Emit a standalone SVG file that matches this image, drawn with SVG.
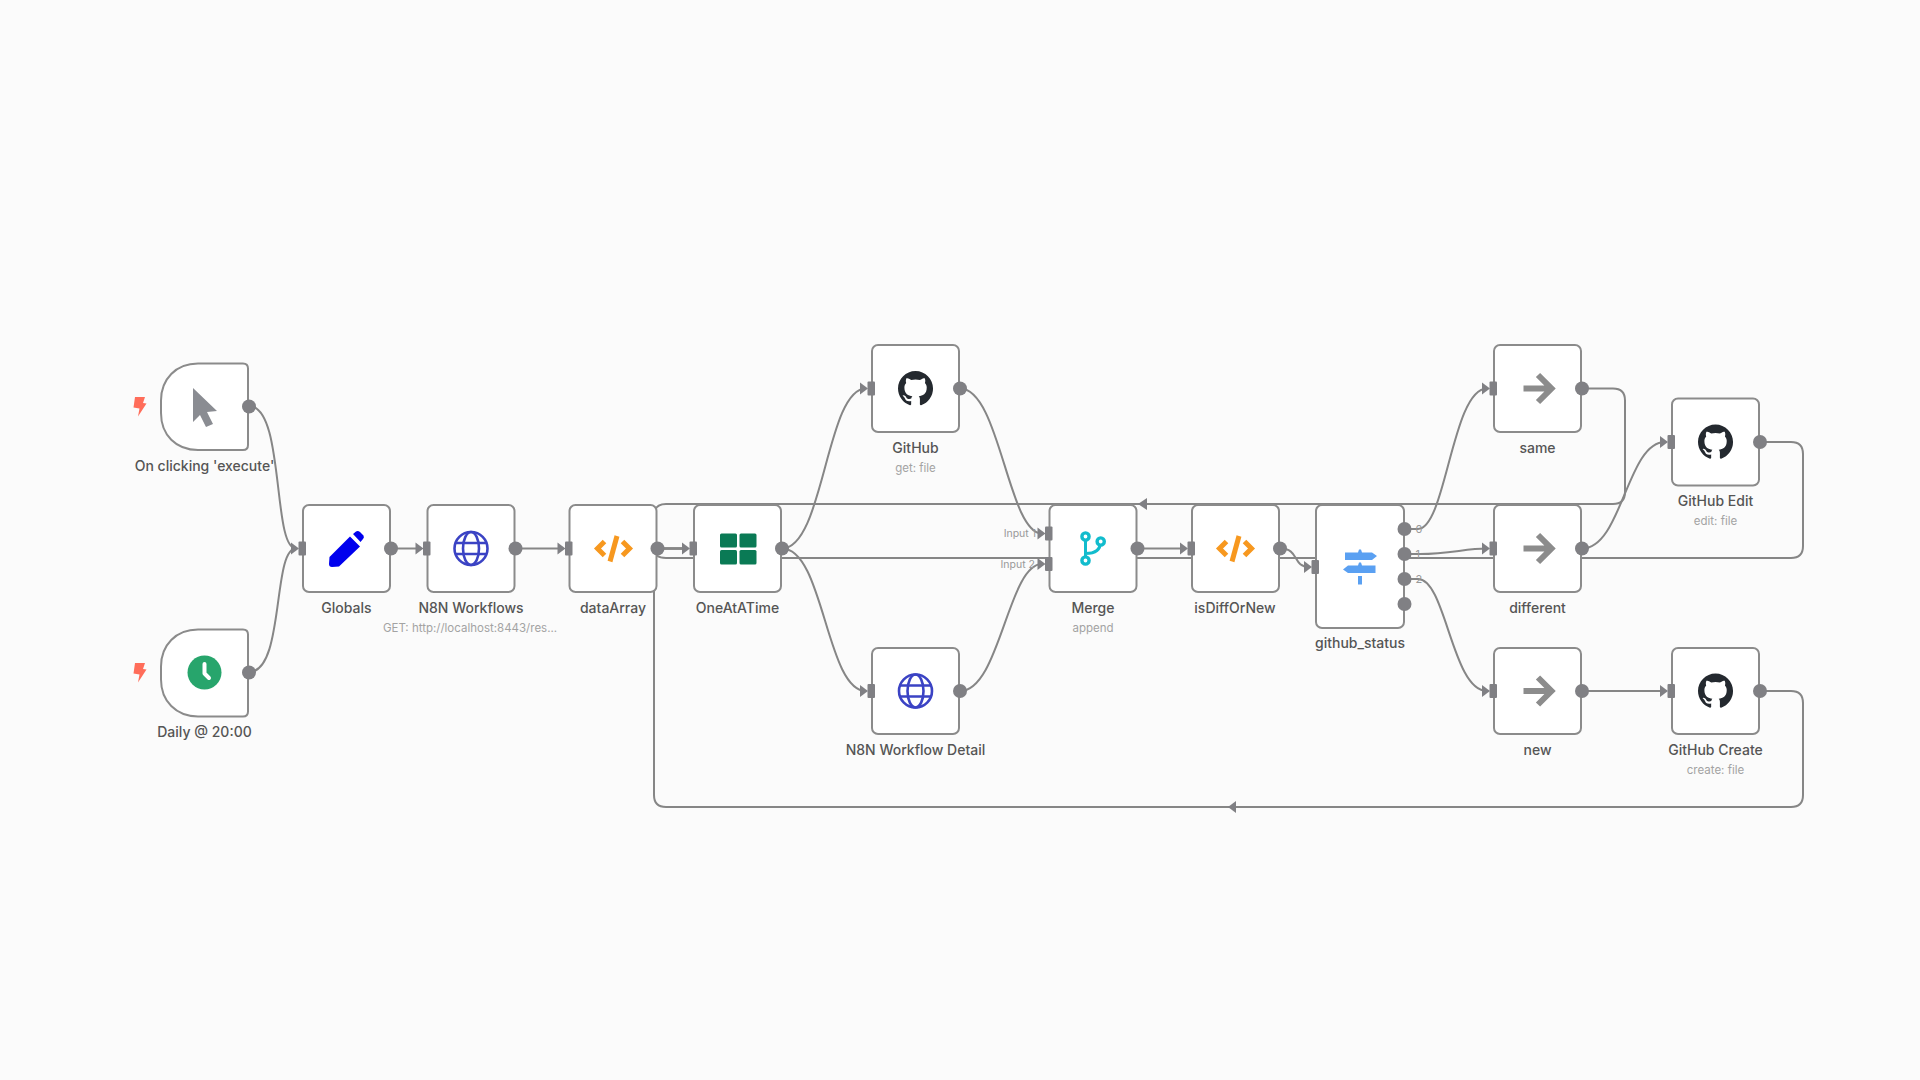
<svg xmlns="http://www.w3.org/2000/svg" xmlns:xlink="http://www.w3.org/1999/xlink" width="1920" height="1080" viewBox="0 0 1920 1080">
<style>
text{font-family:Inter,"Liberation Sans",sans-serif}
.box{fill:#fff;stroke:#8b8b8b;stroke-width:2}
.e{fill:none;stroke:#868686;stroke-width:2}
.dot{fill:#808084}
.port{fill:#808084}
.lbl{font-size:14px;font-weight:500;fill:#555;text-anchor:middle}
.sub{font-size:11.5px;fill:#a3a3a3;text-anchor:middle}
.inl{font-size:10.500px;fill:#999;text-anchor:end}
.outl{font-size:11px;fill:#999}
.noop{fill:none;stroke:#8c8c8c;stroke-width:6}
.globe{fill:none;stroke:#3b43c4;stroke-width:2.600}
.code{fill:none;stroke:#f7981f;stroke-width:5}
.bolt{fill:#ff6d5a}
</style>
<defs>
<g id="in"><polygon points="-12,-6 -4,0 -12,6" class="port"/><rect x="-4.500" y="-7" width="7.500" height="14" rx="1" class="port"/></g>
<path id="gh" fill="#24292f" d="M8 0C3.58 0 0 3.58 0 8c0 3.54 2.29 6.53 5.47 7.59.4.07.55-.17.55-.38 0-.19-.01-.82-.01-1.49-2.01.37-2.53-.49-2.69-.94-.09-.23-.48-.94-.82-1.13-.28-.15-.68-.52-.01-.53.63-.01 1.08.58 1.23.82.72 1.21 1.87.87 2.33.66.07-.52.28-.87.51-1.07-1.78-.2-3.64-.89-3.64-3.95 0-.87.31-1.59.82-2.15-.08-.2-.36-1.02.08-2.12 0 0 .67-.21 2.2.82.64-.18 1.32-.27 2-.27.68 0 1.36.09 2 .27 1.53-1.04 2.2-.82 2.2-.82.44 1.1.16 1.92.08 2.12.51.56.82 1.27.82 2.15 0 3.07-1.87 3.75-3.65 3.95.29.25.54.73.54 1.48 0 1.07-.01 1.93-.01 2.2 0 .21.15.46.55.38A8.013 8.013 0 0016 8c0-4.42-3.58-8-8-8z"/>
<g id="globe" class="globe"><circle r="16.500"/><ellipse rx="8" ry="16.500"/><path d="M-15.500-5.500H15.500M-15.500 5.500H15.500"/></g>
<g id="code" class="code"><path d="M-9-7-16 0-9 7M9-7 16 0 9 7"/><path d="M3.500-12.500-3.500 13"/></g>
<g id="noop" class="noop"><path d="M-14.500 0H13M0-13.500 13.500 0 0 13.500"/></g>
<path id="bolt" class="bolt" d="M-5-9.500H5L3-3.500 6.500-3-2 10-.5 2-6.500 1Z"/>
</defs>
<rect width="1920" height="1080" fill="#fbfbfb"/>
<g id="connectors">
<path class="e" d="M249 406C285 406 272 548.500 296 548.500"/>
<path class="e" d="M249 672C285 672 272 548.500 296 548.500"/>
<path class="e" d="M391 548.500H420"/>
<path class="e" d="M516 548.500H563"/>
<path class="e" d="M658 548.500H687"/>
<path class="e" d="M782 548.500C824 548.500 826 388.500 866 388.500"/>
<path class="e" d="M782 548.500C824 548.500 826 691 866 691"/>
<path class="e" d="M960 388.500C1000 388.500 1008 533.500 1042 533.500"/>
<path class="e" d="M960 691C1000 691 1008 564 1042 564"/>
<path class="e" d="M1138 548.500H1186"/>
<path class="e" d="M1280 548.500C1300 548.500 1292 567 1309 567"/>
<path class="e" d="M1405 529H1418C1446 529 1452 388.500 1487 388.500"/>
<path class="e" d="M1405 554H1420C1450 554 1465 548.500 1487 548.500"/>
<path class="e" d="M1405 579H1418C1446 579 1452 691 1487 691"/>
<path class="e" d="M1582 548.500C1622 548.500 1627 442 1665 442"/>
<path class="e" d="M1582 691H1665"/>
<path class="e" d="M1582 388.500H1613Q1625 388.500 1625 400.500V492Q1625 504 1613 504H666Q654 504 654 516V536.500Q654 548.500 666 548.500H687"/>
<path class="e" d="M1760 442H1791Q1803 442 1803 454V546Q1803 558 1791 558H666Q654 558 654 548.500H687"/>
<path class="e" d="M1760 691H1791Q1803 691 1803 703V795Q1803 807 1791 807H666Q654 807 654 795V560.500Q654 548.500 666 548.500H687"/>
<polygon class="port" points="1138,504 1147,498 1147,510"/>
<polygon class="port" points="1228,807 1236,801 1236,813"/>
</g>
<g id="trigger-click">
<use xlink:href="#bolt" href="#bolt" x="140" y="406.500"/>
<path class="box" d="M198 363.500H243Q248 363.500 248 368.500V445Q248 450 243 450H198C176 450 161 435 161 413V400.500C161 379 176 363.500 198 363.500Z"/>
<polygon fill="#8a8c92" points="193,388 217,411 207,412 213,424 206,427 200,415 193,422"/>
<circle class="dot" cx="249" cy="406.500" r="7"/>
<text class="lbl" x="204.500" y="471">On clicking 'execute'</text>
</g>
<g id="trigger-daily">
<use xlink:href="#bolt" href="#bolt" x="140" y="672.500"/>
<path class="box" d="M198 629.500H243Q248 629.500 248 634.500V711.500Q248 716.500 243 716.500H198C176 716.500 161 701 161 679.500V666.500C161 645 176 629.500 198 629.500Z"/>
<circle cx="204.500" cy="672.500" r="17" fill="#27a56c"/>
<path d="M204.500 664V673.500L209 678" fill="none" stroke="#fff" stroke-width="4" stroke-linecap="round" stroke-linejoin="round"/>
<circle class="dot" cx="249" cy="672.500" r="7"/>
<text class="lbl" x="204.500" y="737">Daily @ 20:00</text>
</g>
<g id="globals">
<rect class="box" x="303" y="505" width="87" height="87" rx="6"/>
<use xlink:href="#in" href="#in" x="303" y="548.500"/>
<path fill="#0000ee" d="M329.500 557 350 536.500 360 546.500 339 566.500 332 567Q329 567 329 564ZM353 534 356 531.500Q358 530.500 360 532L363.500 535.500Q364.500 537.500 363 539L360.500 542Z"/>
<circle class="dot" cx="391" cy="548.500" r="7"/>
<text class="lbl" x="346.500" y="613">Globals</text>
</g>
<g id="n8n-workflows">
<rect class="box" x="427.500" y="505" width="87" height="87" rx="6"/>
<use xlink:href="#in" href="#in" x="427.500" y="548.500"/>
<use xlink:href="#globe" href="#globe" x="471" y="548.500"/>
<circle class="dot" cx="515.500" cy="548.500" r="7"/>
<text class="lbl" x="471" y="613">N8N Workflows</text>
<text class="sub" x="470" y="632">GET: http://localhost:8443/res...</text>
</g>
<g id="dataArray">
<rect class="box" x="569.500" y="505" width="87" height="87" rx="6"/>
<use xlink:href="#in" href="#in" x="569.500" y="548.500"/>
<use xlink:href="#code" href="#code" x="613.500" y="548.500"/>
<circle class="dot" cx="657.500" cy="548.500" r="7"/>
<text class="lbl" x="613" y="613">dataArray</text>
</g>
<g id="oneAtATime">
<rect class="box" x="694" y="505" width="87" height="87" rx="6"/>
<use xlink:href="#in" href="#in" x="694" y="548.500"/>
<g fill="#0a7a55"><rect x="720" y="533.500" width="17" height="14" rx="1.500"/><rect x="739.500" y="533.500" width="17" height="14" rx="1.500"/><rect x="720" y="550" width="17" height="14.500" rx="1.500"/><rect x="739.500" y="550" width="17" height="14.500" rx="1.500"/></g>
<circle class="dot" cx="782" cy="548.500" r="7"/>
<text class="lbl" x="737.500" y="613">OneAtATime</text>
</g>
<g id="github">
<rect class="box" x="872" y="345" width="87" height="87" rx="6"/>
<use xlink:href="#in" href="#in" x="872" y="388.500"/>
<use xlink:href="#gh" href="#gh" transform="translate(898 371) scale(2.190)"/>
<circle class="dot" cx="960" cy="388.500" r="7"/>
<text class="lbl" x="915.500" y="453">GitHub</text>
<text class="sub" x="915.500" y="472">get: file</text>
</g>
<g id="n8n-workflow-detail">
<rect class="box" x="872" y="648" width="87" height="86" rx="6"/>
<use xlink:href="#in" href="#in" x="872" y="691"/>
<use xlink:href="#globe" href="#globe" x="915.500" y="691"/>
<circle class="dot" cx="960" cy="691" r="7"/>
<text class="lbl" x="915.500" y="755">N8N Workflow Detail</text>
</g>
<g id="merge">
<rect class="box" x="1049.500" y="505" width="87" height="87" rx="6"/>
<use xlink:href="#in" href="#in" x="1049.500" y="533.500"/>
<use xlink:href="#in" href="#in" x="1049.500" y="564"/>
<text class="inl" x="1036" y="537">Input 1</text>
<text class="inl" x="1035" y="568">Input 2</text>
<path d="M1085.500 537V560M1085.500 553.500Q1100.500 553.500 1100.500 542" fill="none" stroke="#12bccd" stroke-width="3"/>
<g fill="#fff" stroke="#12bccd" stroke-width="3.400"><circle cx="1085.500" cy="536.500" r="3.600"/><circle cx="1100.700" cy="541.500" r="3.600"/><circle cx="1085.500" cy="560.500" r="3.600"/></g>
<circle class="dot" cx="1137.500" cy="548.500" r="7"/>
<text class="lbl" x="1093" y="613">Merge</text>
<text class="sub" x="1093" y="632">append</text>
</g>
<g id="isDiffOrNew">
<rect class="box" x="1192" y="505" width="87" height="87" rx="6"/>
<use xlink:href="#in" href="#in" x="1192" y="548.500"/>
<use xlink:href="#code" href="#code" x="1235.500" y="548.500"/>
<circle class="dot" cx="1280" cy="548.500" r="7"/>
<text class="lbl" x="1235" y="613">isDiffOrNew</text>
</g>
<g id="github_status">
<rect class="box" x="1316" y="505" width="88" height="123" rx="6"/>
<use xlink:href="#in" href="#in" x="1316" y="567"/>
<g fill="#5aa0f2"><path d="M1345 552.500H1358L1359 549.500H1361L1362 552.500H1372L1377 556 1372 560H1345Z"/><path d="M1348 565.500H1358L1359 562.500H1361L1362 565.500H1375.500V573H1348L1343 569.500Z"/><rect x="1358" y="576" width="4" height="8.500"/></g>
<circle class="dot" cx="1404.500" cy="529" r="7"/>
<circle class="dot" cx="1404.500" cy="554" r="7"/>
<circle class="dot" cx="1404.500" cy="579" r="7"/>
<circle class="dot" cx="1404.500" cy="604" r="7"/>
<text class="outl" x="1415.500" y="533">0</text>
<text class="outl" x="1415.500" y="558">1</text>
<text class="outl" x="1415.500" y="583">2</text>
<text class="lbl" x="1360" y="648">github_status</text>
</g>
<g id="same">
<rect class="box" x="1494" y="345" width="87" height="87" rx="6"/>
<use xlink:href="#in" href="#in" x="1494" y="388.500"/>
<use xlink:href="#noop" href="#noop" x="1538" y="388.500"/>
<circle class="dot" cx="1582" cy="388.500" r="7"/>
<text class="lbl" x="1537.500" y="453">same</text>
</g>
<g id="different">
<rect class="box" x="1494" y="505" width="87" height="87" rx="6"/>
<use xlink:href="#in" href="#in" x="1494" y="548.500"/>
<use xlink:href="#noop" href="#noop" x="1538" y="548.500"/>
<circle class="dot" cx="1582" cy="548.500" r="7"/>
<text class="lbl" x="1537.500" y="613">different</text>
</g>
<g id="new">
<rect class="box" x="1494" y="648" width="87" height="86" rx="6"/>
<use xlink:href="#in" href="#in" x="1494" y="691"/>
<use xlink:href="#noop" href="#noop" x="1538" y="691"/>
<circle class="dot" cx="1582" cy="691" r="7"/>
<text class="lbl" x="1537.500" y="755">new</text>
</g>
<g id="github-edit">
<rect class="box" x="1672" y="398.500" width="87" height="87" rx="6"/>
<use xlink:href="#in" href="#in" x="1672" y="442"/>
<use xlink:href="#gh" href="#gh" transform="translate(1698 424.500) scale(2.190)"/>
<circle class="dot" cx="1760" cy="442" r="7"/>
<text class="lbl" x="1715.500" y="506">GitHub Edit</text>
<text class="sub" x="1715.500" y="525">edit: file</text>
</g>
<g id="github-create">
<rect class="box" x="1672" y="648" width="87" height="86" rx="6"/>
<use xlink:href="#in" href="#in" x="1672" y="691"/>
<use xlink:href="#gh" href="#gh" transform="translate(1698 673.500) scale(2.190)"/>
<circle class="dot" cx="1760" cy="691" r="7"/>
<text class="lbl" x="1715.500" y="755">GitHub Create</text>
<text class="sub" x="1715.500" y="774">create: file</text>
</g>
</svg>
